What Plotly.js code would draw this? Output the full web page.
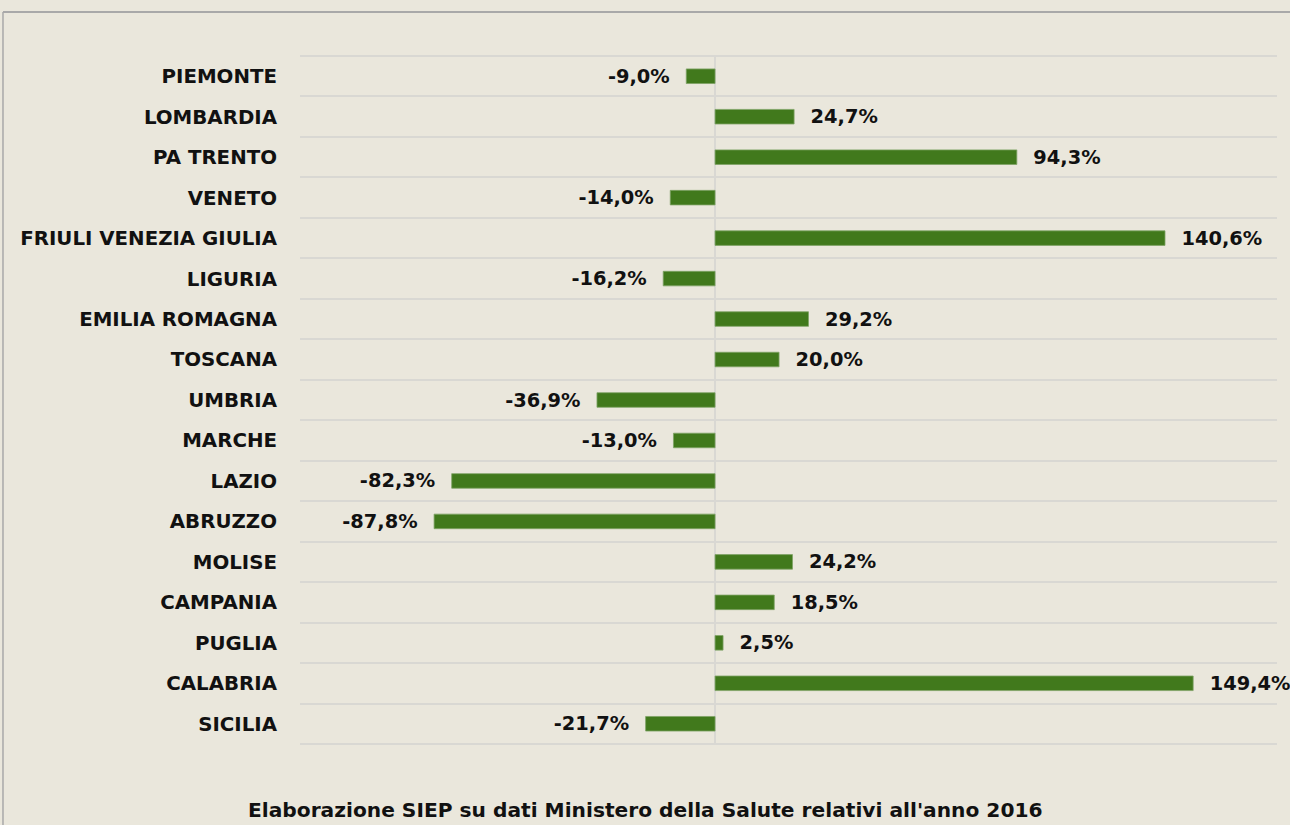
<!DOCTYPE html>
<html>
<head>
<meta charset="utf-8">
<script src="https://cdn.plot.ly/plotly-3.0.1.min.js"></script>
<style>
  html, body { margin: 0; padding: 0; background: #EAE7DC; }
  #chart { width: 1290px; height: 825px; }
</style>
</head>
<body>
<div id="chart"></div>
<script>
const regions = ["PIEMONTE", "LOMBARDIA", "PA TRENTO", "VENETO", "FRIULI VENEZIA GIULIA", "LIGURIA",
  "EMILIA ROMAGNA", "TOSCANA", "UMBRIA", "MARCHE", "LAZIO", "ABRUZZO", "MOLISE", "CAMPANIA",
  "PUGLIA", "CALABRIA", "SICILIA"];
const variation = [-9.0, 24.7, 94.3, -14.0, 140.6, -16.2, 29.2, 20.0, -36.9, -13.0, -82.3, -87.8,
  24.2, 18.5, 2.5, 149.4, -21.7];
const caption = "Elaborazione SIEP su dati Ministero della Salute relativi all'anno 2016";

const gap = "\u00a0\u00a0";
const labels = variation.map(v => {
  const s = v.toFixed(1).replace('.', ',') + '%';
  return v >= 0 ? gap + s : s + gap;
});

const FONT = "DejaVu Sans, Verdana, sans-serif";
const GRID = '#d9d8d3';

const trace = {
  type: 'bar',
  orientation: 'h',
  y: regions,
  x: variation,
  text: labels,
  textposition: 'outside',
  constraintext: 'none',
  cliponaxis: false,
  textfont: { family: FONT, size: 19.4, color: '#111111', weight: 'bold' },
  marker: { color: '#41791C', line: { color: '#7fa366', width: 0.8 } },
  width: 0.36,
  hoverinfo: 'skip'
};

const layout = {
  width: 1290,
  height: 825,
  paper_bgcolor: '#EAE7DC',
  plot_bgcolor: '#EAE7DC',
  margin: { l: 300, r: 13, t: 56, b: 81 },
  showlegend: false,
  font: { family: FONT, color: '#111111' },
  xaxis: {
    range: [-129.7, 175.6],
    showgrid: false,
    showticklabels: false,
    zeroline: true,
    zerolinecolor: GRID,
    zerolinewidth: 2,
    fixedrange: true
  },
  yaxis: {
    type: 'category',
    autorange: 'reversed',
    tickson: 'boundaries',
    showgrid: true,
    gridcolor: GRID,
    gridwidth: 2,
    ticks: '',
    ticklabelstandoff: 22,
    tickfont: { family: FONT, size: 19.8, color: '#111111', weight: 'bold' },
    zeroline: false,
    fixedrange: true
  },
  shapes: [
    { type: 'line', xref: 'paper', yref: 'paper', x0: 0, x1: 1, y0: 1, y1: 1, layer: 'below',
      line: { color: GRID, width: 2 } },
    { type: 'line', xref: 'paper', yref: 'paper', x0: 0, x1: 1, y0: 0, y1: 0, layer: 'below',
      line: { color: GRID, width: 2 } },
    { type: 'line', xref: 'paper', yref: 'paper', x0: -0.304, x1: 1.2, y0: 1.064, y1: 1.064,
      line: { color: '#a9a9a9', width: 2 } },
    { type: 'line', xref: 'paper', yref: 'paper', x0: -0.304, x1: -0.304, y0: 1.064, y1: -0.2,
      line: { color: '#a9a9a9', width: 1.5 } }
  ],
  annotations: [
    { text: caption, xref: 'paper', yref: 'paper', x: (645 - 300) / 977, y: -(810 - 744) / 688,
      xanchor: 'center', yanchor: 'middle', showarrow: false,
      font: { family: FONT, size: 20.2, color: '#111111', weight: 'bold' } }
  ]
};

Plotly.newPlot('chart', [trace], layout, { displayModeBar: false, staticPlot: true });
</script>
</body>
</html>
